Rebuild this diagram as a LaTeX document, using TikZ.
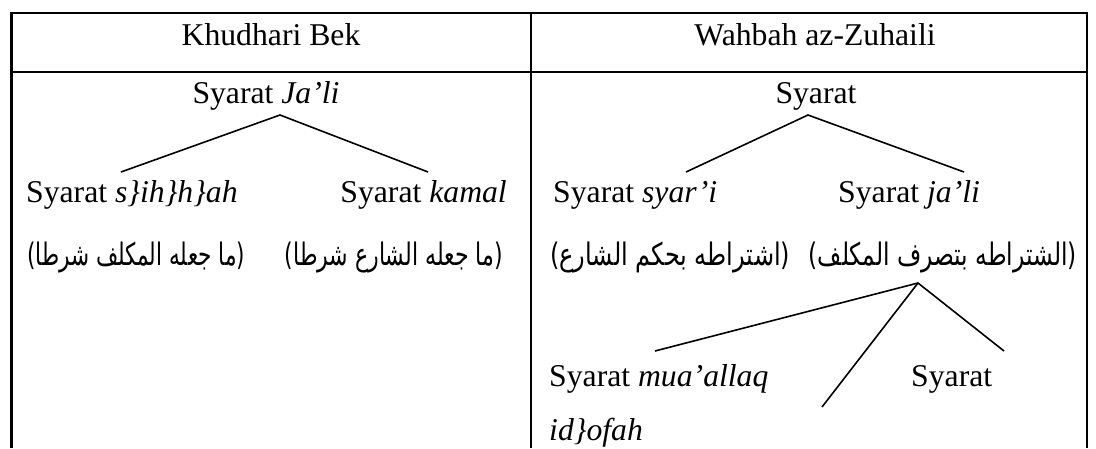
\documentclass[tikz,border=0pt]{standalone}
\usepackage{graphicx}
\usepackage{fontspec}
\setmainfont{Liberation Serif}
\newfontfamily\arabicfont[Script=Arabic]{DejaVu Sans}
\TeXXeTstate=1
\newcommand{\arw}[2]{\resizebox{#1pt}{\height}{\arabicfont #2}}
\begin{document}
\begin{tikzpicture}[x=1pt,y=-1pt,
  txt/.style={inner sep=0pt,font=\fontsize{31.7}{36}\selectfont},
  ar/.style={inner sep=0pt,font=\fontsize{31}{36}\arabicfont},
  grid/.style={line width=2.6pt},
  branch/.style={line width=1.6pt}]
\useasboundingbox (0,0) rectangle (1096,448);
% table lines
\draw[grid] (11.5,448) -- (11.5,13) -- (1087,13) -- (1087,448);
\draw[grid] (11.5,72) -- (1087,72);
\draw[grid] (531,13) -- (531,448);
% headers
\node[txt,anchor=base] (hk) at (271,45) {Khudhari Bek};
\node[txt,anchor=base] (hw) at (815,45) {Wahbah az-Zuhaili};
% left tree
\node[txt,anchor=base] (lroot) at (266,103) {Syarat \textit{Ja’li}};
\coordinate (la) at (280,115);
\coordinate (lb1) at (121,172);
\coordinate (lb2) at (428,172);
\draw[branch] (lb1) -- (la) -- (lb2);
\node[txt,anchor=base west] (ls) at (26,202) {Syarat \textit{s\}ih\}h\}ah}};
\node[txt,anchor=base east] (lk) at (507,202) {Syarat \textit{kamal}};
\node[ar,anchor=base west] (lar1) at (27,265) {\arw{218}{\beginR(ما جعله المكلف شرطا)\endR}};
\node[ar,anchor=base east] (lar2) at (503,265) {\arw{218}{\beginR(ما جعله الشارع شرطا)\endR}};
% right tree
\node[txt,anchor=base] (rroot) at (816,103) {Syarat};
\coordinate (ra) at (808,115);
\coordinate (rb1) at (686,172);
\coordinate (rb2) at (964,172);
\draw[branch] (rb1) -- (ra) -- (rb2);
\node[txt,anchor=base west] (rs) at (553,202) {Syarat \textit{syar’i}};
\node[txt,anchor=base west] (rj) at (838,202) {Syarat \textit{ja’li}};
\node[ar,anchor=base west] (rar1) at (550,265) {\arw{240}{\beginR(اشتراطه بحكم الشارع)\endR}};
\node[ar,anchor=base east] (rar2) at (1077,265) {\arw{268}{\beginR(الشتراطه بتصرف المكلف)\endR}};
\coordinate (sa) at (918,283);
\coordinate (sb1) at (655,351);
\coordinate (sb2) at (822,407);
\coordinate (sb3) at (1004,351);
\draw[branch] (sb1) -- (sa) -- (sb3);
\draw[branch] (sa) -- (sb2);
\node[txt,anchor=base west] (rm) at (549,386) {Syarat \textit{mua’allaq}};
\node[txt,anchor=base west] (rm2) at (549,440) {\textit{id\}ofah}};
\node[txt,anchor=base west] (rsy) at (911,386) {Syarat};
\end{tikzpicture}
\end{document}
